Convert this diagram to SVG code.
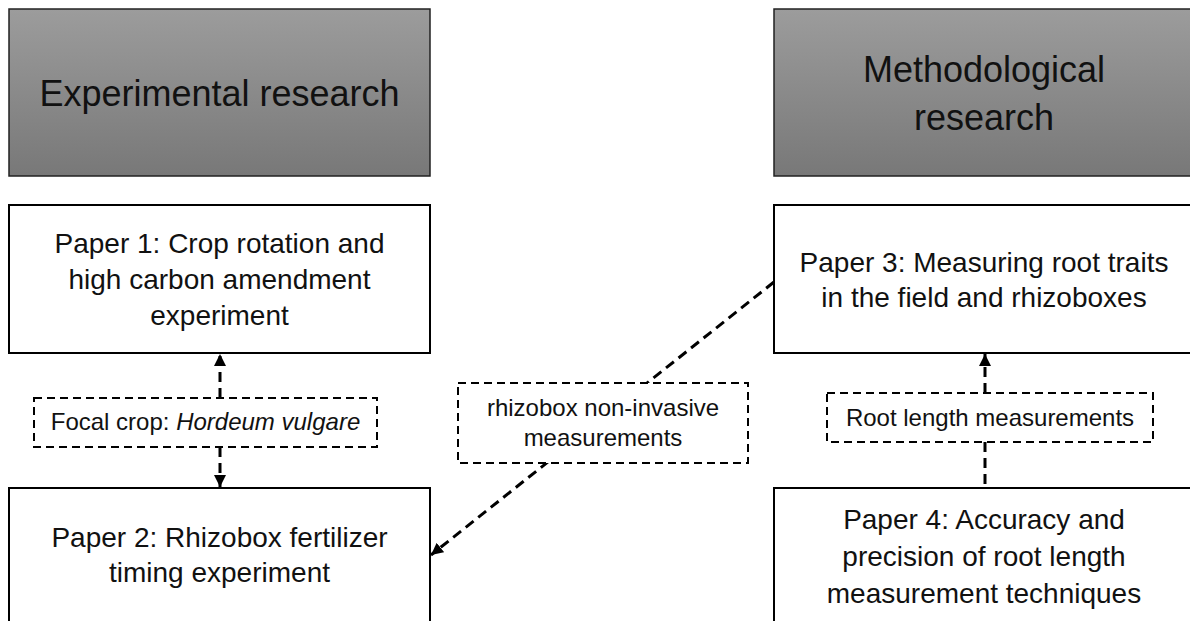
<svg xmlns="http://www.w3.org/2000/svg" width="1190" height="621" viewBox="0 0 1190 621">
  <defs>
    <linearGradient id="headFill" x1="0" y1="0" x2="0" y2="1">
      <stop offset="0" stop-color="#9c9c9c"/>
      <stop offset="1" stop-color="#787878"/>
    </linearGradient>
    <marker id="arrow" markerUnits="userSpaceOnUse" markerWidth="12" markerHeight="12" refX="12" refY="6" orient="auto">
      <path d="M0,0 L12,6 L0,12 z" fill="#000"/>
    </marker>
  </defs>
  <style>
    .head { fill: url(#headFill); stroke: #222; stroke-width: 1.5; }
    .paper { fill: #fff; stroke: #000; stroke-width: 2; }
    .label { fill: #fff; stroke: #000; stroke-width: 2; stroke-dasharray: 8 5; }
    .link { fill: none; stroke: #000; stroke-width: 3; stroke-dasharray: 10 6; }
    text { font-family: "Liberation Sans", Arial, sans-serif; fill: #111; text-anchor: middle; }
    .t-head { font-size: 36px; }
    .t-paper { font-size: 28px; }
    .t-label { font-size: 24px; }
  </style>
  <rect width="1190" height="621" fill="#fff"/>

  <!-- column headers -->
  <g id="head-experimental">
    <rect class="head" x="9" y="9" width="421" height="167"/>
    <text class="t-head" x="219.5" y="106">Experimental research</text>
  </g>
  <g id="head-methodological">
    <rect class="head" x="774" y="9" width="420" height="167"/>
    <text class="t-head" x="984" y="82">Methodological</text>
    <text class="t-head" x="984" y="130">research</text>
  </g>

  <!-- papers -->
  <g id="paper1">
    <rect class="paper" x="9" y="205" width="421" height="148"/>
    <text class="t-paper" x="219.5" y="253">Paper 1: Crop rotation and</text>
    <text class="t-paper" x="219.5" y="289">high carbon amendment</text>
    <text class="t-paper" x="219.5" y="325">experiment</text>
  </g>
  <g id="paper2">
    <rect class="paper" x="9" y="488" width="421" height="150"/>
    <text class="t-paper" x="219.5" y="547">Paper 2: Rhizobox fertilizer</text>
    <text class="t-paper" x="219.5" y="582">timing experiment</text>
  </g>
  <g id="paper3">
    <rect class="paper" x="774" y="205" width="420" height="148"/>
    <text class="t-paper" x="984" y="272">Paper 3: Measuring root traits</text>
    <text class="t-paper" x="984" y="307">in the field and rhizoboxes</text>
  </g>
  <g id="paper4">
    <rect class="paper" x="774" y="488" width="420" height="150"/>
    <text class="t-paper" x="984" y="529">Paper 4: Accuracy and</text>
    <text class="t-paper" x="984" y="566">precision of root length</text>
    <text class="t-paper" x="984" y="603">measurement techniques</text>
  </g>

  <!-- connectors -->
  <g id="connectors">
    <line class="link" x1="220" y1="398" x2="220" y2="354" marker-end="url(#arrow)"/>
    <line class="link" x1="220" y1="447" x2="220" y2="487" marker-end="url(#arrow)"/>
    <line class="link" x1="774" y1="282" x2="431" y2="555" marker-end="url(#arrow)"/>
    <line class="link" x1="985" y1="393" x2="985" y2="354" marker-end="url(#arrow)"/>
    <line class="link" x1="985" y1="442" x2="985" y2="488"/>
  </g>

  <!-- dashed relation labels -->
  <g id="label-focal-crop">
    <rect class="label" x="34" y="398" width="343" height="49"/>
    <text class="t-label" x="205.5" y="430">Focal crop: <tspan font-style="italic">Hordeum vulgare</tspan></text>
  </g>
  <g id="label-rhizobox">
    <rect class="label" x="458" y="383" width="290" height="80"/>
    <text class="t-label" x="603" y="416">rhizobox non-invasive</text>
    <text class="t-label" x="603" y="446">measurements</text>
  </g>
  <g id="label-root-length">
    <rect class="label" x="827" y="393" width="326" height="49"/>
    <text class="t-label" x="990" y="426">Root length measurements</text>
  </g>
</svg>
